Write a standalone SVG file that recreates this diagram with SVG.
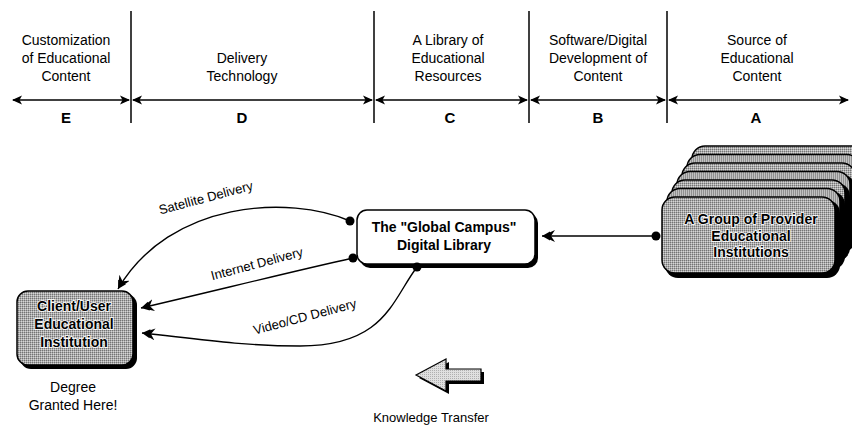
<svg xmlns="http://www.w3.org/2000/svg" width="852" height="427" viewBox="0 0 852 427">
  <defs>
    <!-- halftone-like grey fill -->
    <pattern id="ht" width="2" height="2" patternUnits="userSpaceOnUse">
      <rect width="2" height="2" fill="#ababab"/>
      <rect width="1" height="1" fill="#747474"/>
      <rect x="1" y="1" width="1" height="1" fill="#d6d6d6"/>
    </pattern>
    <pattern id="htLight" width="2" height="2" patternUnits="userSpaceOnUse">
      <rect width="2" height="2" fill="#e0e0e0"/>
      <rect width="1" height="1" fill="#b0b0b0"/>
    </pattern>
    <!-- solid arrowhead for the stage ruler -->
    <marker id="tri" viewBox="0 0 10 10" refX="9" refY="5" markerWidth="10" markerHeight="10" markerUnits="userSpaceOnUse" orient="auto-start-reverse">
      <path d="M0,0.5 L10,5 L0,9.5 L2.5,5 z" fill="#000"/>
    </marker>
    <!-- barbed arrowhead for delivery connectors -->
    <marker id="barb" viewBox="0 0 14 12" refX="13" refY="6" markerWidth="14" markerHeight="12" markerUnits="userSpaceOnUse" orient="auto">
      <path d="M0,0 L13,6 L0,12 L4,6 z M5,1.5 L13,6 L5,10.5 z" fill="#000"/>
    </marker>
  </defs>
  <style>
    .hdr { font-family: "Liberation Sans", Arial, sans-serif; font-size: 14px; fill: #000; text-anchor: middle; }
    .stage { font-family: "Liberation Sans", Arial, sans-serif; font-size: 15px; font-weight: bold; fill: #000; text-anchor: middle; }
    .lbl { font-family: "Liberation Sans", Arial, sans-serif; font-size: 13px; fill: #000; text-anchor: middle; }
    .note { font-family: "Liberation Sans", Arial, sans-serif; font-size: 14px; fill: #000; text-anchor: middle; }
    .bold { font-family: "Liberation Sans", Arial, sans-serif; font-size: 14px; font-weight: bold; fill: #000; text-anchor: middle; }
    .halo { stroke: #fff; stroke-width: 1.6px; paint-order: stroke; }
    .divider { stroke: #000; stroke-width: 1.5; }
    .ruler { stroke: #000; stroke-width: 1.5; fill: none; marker-start: url(#tri); marker-end: url(#tri); }
    .conn { stroke: #000; stroke-width: 1.4; fill: none; }
    .shadow { fill: #000; }
    .grey { fill: url(#ht); stroke: #000; stroke-width: 1.5; }
    .white { fill: #fff; stroke: #000; stroke-width: 1.5; }
  </style>

  <!-- stage ruler -->
  <g id="ruler">
    <line class="divider" x1="131" y1="11" x2="131" y2="123"/>
    <line class="divider" x1="374" y1="11" x2="374" y2="123"/>
    <line class="divider" x1="529" y1="11" x2="529" y2="123"/>
    <line class="divider" x1="667" y1="11" x2="667" y2="123"/>
    <line class="ruler" x1="13" y1="100" x2="129" y2="100"/>
    <line class="ruler" x1="133" y1="100" x2="372" y2="100"/>
    <line class="ruler" x1="376" y1="100" x2="527" y2="100"/>
    <line class="ruler" x1="531" y1="100" x2="665" y2="100"/>
    <line class="ruler" x1="669" y1="100" x2="848" y2="100"/>
  </g>

  <g id="stage-E">
    <text class="hdr" x="66" y="45">Customization</text>
    <text class="hdr" x="66" y="63">of Educational</text>
    <text class="hdr" x="66" y="81">Content</text>
    <text class="stage" x="66" y="123">E</text>
  </g>
  <g id="stage-D">
    <text class="hdr" x="242" y="63">Delivery</text>
    <text class="hdr" x="242" y="81">Technology</text>
    <text class="stage" x="242" y="123">D</text>
  </g>
  <g id="stage-C">
    <text class="hdr" x="448" y="45">A Library of</text>
    <text class="hdr" x="448" y="63">Educational</text>
    <text class="hdr" x="448" y="81">Resources</text>
    <text class="stage" x="450" y="123">C</text>
  </g>
  <g id="stage-B">
    <text class="hdr" x="598" y="45">Software/Digital</text>
    <text class="hdr" x="598" y="63">Development of</text>
    <text class="hdr" x="598" y="81">Content</text>
    <text class="stage" x="598" y="123">B</text>
  </g>
  <g id="stage-A">
    <text class="hdr" x="757" y="45">Source of</text>
    <text class="hdr" x="757" y="63">Educational</text>
    <text class="hdr" x="757" y="81">Content</text>
    <text class="stage" x="756" y="123">A</text>
  </g>

  <!-- stacked provider institutions, back to front -->
  <g id="providers">
    <g transform="translate(30,-51)">
      <rect class="shadow" x="665" y="200" width="175" height="78" rx="13"/>
      <rect class="grey" x="662" y="197" width="173" height="76" rx="13"/>
    </g>
    <g transform="translate(25,-42.5)">
      <rect class="shadow" x="665" y="200" width="175" height="78" rx="13"/>
      <rect class="grey" x="662" y="197" width="173" height="76" rx="13"/>
    </g>
    <g transform="translate(20,-34)">
      <rect class="shadow" x="665" y="200" width="175" height="78" rx="13"/>
      <rect class="grey" x="662" y="197" width="173" height="76" rx="13"/>
    </g>
    <g transform="translate(15,-25.5)">
      <rect class="shadow" x="665" y="200" width="175" height="78" rx="13"/>
      <rect class="grey" x="662" y="197" width="173" height="76" rx="13"/>
    </g>
    <g transform="translate(10,-17)">
      <rect class="shadow" x="665" y="200" width="175" height="78" rx="13"/>
      <rect class="grey" x="662" y="197" width="173" height="76" rx="13"/>
    </g>
    <g transform="translate(5,-8.5)">
      <rect class="shadow" x="665" y="200" width="175" height="78" rx="13"/>
      <rect class="grey" x="662" y="197" width="173" height="76" rx="13"/>
    </g>
    <rect class="shadow" x="665" y="200" width="175" height="78" rx="13"/>
    <rect class="grey" x="662" y="197" width="173" height="76" rx="13"/>
    <text class="bold halo" x="751" y="224">A Group of Provider</text>
    <text class="bold halo" x="751" y="241">Educational</text>
    <text class="bold halo" x="751" y="257">Institutions</text>
  </g>

  <!-- digital library -->
  <g id="library">
    <rect class="shadow" x="360" y="213" width="178" height="55" rx="10"/>
    <rect class="white" x="357" y="210" width="178" height="54" rx="10"/>
    <text class="bold" x="444" y="232">The "Global Campus"</text>
    <text class="bold" x="444" y="250">Digital Library</text>
  </g>

  <!-- client institution -->
  <g id="client">
    <rect class="shadow" x="20" y="294" width="117" height="75" rx="11"/>
    <rect class="grey" x="17" y="291" width="116" height="74" rx="11"/>
    <text class="bold halo" x="74" y="311">Client/User</text>
    <text class="bold halo" x="74" y="329">Educational</text>
    <text class="bold halo" x="74" y="347">Institution</text>
    <text class="note" x="73" y="392">Degree</text>
    <text class="note" x="73" y="410">Granted Here!</text>
  </g>

  <!-- knowledge transfer -->
  <g id="knowledge">
    <polygon class="shadow" points="419,378 449,362 449,372 484,372 484,384 449,384 449,394"/>
    <polygon points="416,375 446,359 446,369 481,369 481,381 446,381 446,391" fill="url(#htLight)" stroke="#000" stroke-width="1.2"/>
    <text class="note" x="431" y="422" style="font-size:13px">Knowledge Transfer</text>
  </g>

  <!-- connectors -->
  <g id="connectors">
    <path class="conn" d="M656,236 L542,236" marker-end="url(#barb)"/>
    <path class="conn" d="M350,221 C290,195 170,200 118,289" marker-end="url(#barb)"/>
    <path class="conn" d="M353,258 C290,272 210,292 141,308" marker-end="url(#barb)"/>
    <path class="conn" d="M417,267 C392,300 385,346 300,346 C240,346 190,338 142,333" marker-end="url(#barb)"/>
    <circle cx="656" cy="236" r="4.5" fill="#000"/>
    <circle cx="350" cy="221" r="4.5" fill="#000"/>
    <circle cx="353" cy="258" r="4.5" fill="#000"/>
    <circle cx="417" cy="267" r="4.5" fill="#000"/>
    <text class="lbl" x="207" y="202" transform="rotate(-15 207 202)">Satellite Delivery</text>
    <text class="lbl" x="258" y="268" transform="rotate(-15 258 268)">Internet Delivery</text>
    <text class="lbl" x="306" y="321" transform="rotate(-15 306 321)">Video/CD Delivery</text>
  </g>
</svg>
